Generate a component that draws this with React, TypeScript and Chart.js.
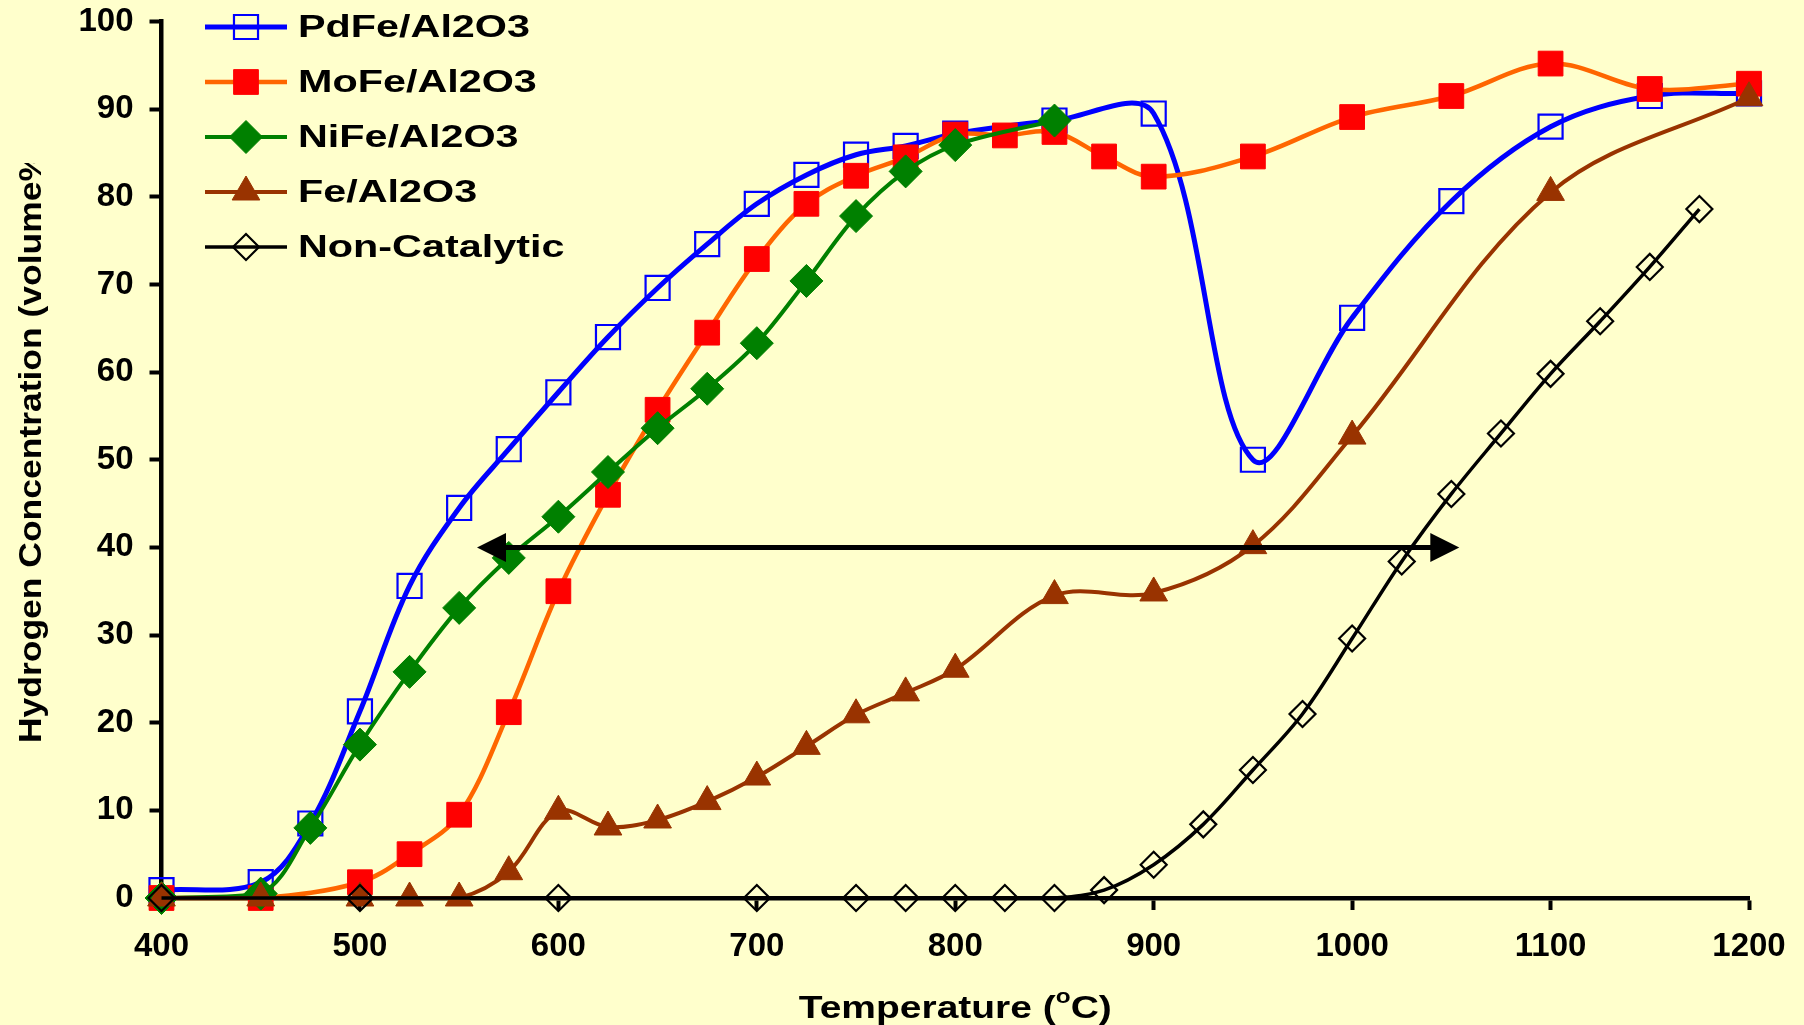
import React, { useEffect, useRef } from 'react';
import { Chart, registerables } from 'chart.js';

Chart.register(...registerables);

// ---------------- DATA ----------------
const PD_X = [400, 450, 475, 500, 525, 550, 575, 600, 625, 650, 675, 700, 725, 750, 775, 800, 850, 900, 950, 1000, 1050, 1100, 1150, 1200];
const PD_Y = [0.9, 1.8, 8.5, 21.3, 35.6, 44.5, 51.2, 57.7, 64, 69.6, 74.6, 79.2, 82.5, 84.8, 85.8, 87.2, 88.7, 89.5, 50.0, 66.2, 79.5, 88.0, 91.5, 91.8];

const MO_X = [400, 450, 500, 525, 550, 575, 600, 625, 650, 675, 700, 725, 750, 775, 800, 825, 850, 875, 900, 950, 1000, 1050, 1100, 1150, 1200];
const MO_Y = [0, 0, 1.8, 5, 9.5, 21.2, 35, 46, 55.7, 64.5, 72.9, 79.2, 82.4, 84.5, 87.1, 87, 87.4, 84.6, 82.3, 84.6, 89.1, 91.5, 95.2, 92.3, 92.9];

const NI_X = [400, 450, 475, 500, 525, 550, 575, 600, 625, 650, 675, 700, 725, 750, 775, 800, 850];
const NI_Y = [0, 0.5, 8, 17.5, 25.8, 33.1, 38.8, 43.5, 48.6, 53.6, 58.1, 63.3, 70.4, 77.8, 82.9, 85.9, 88.7];

const FE_X = [400, 450, 500, 525, 550, 575, 600, 625, 650, 675, 700, 725, 750, 775, 800, 850, 900, 950, 1000, 1100, 1200];
const FE_Y = [0, 0, 0, 0, 0, 3, 9.9, 8.1, 8.9, 11, 13.8, 17.3, 20.9, 23.4, 26.1, 34.5, 34.8, 40.2, 52.7, 80.5, 91.3];

const NC_X = [400, 500, 600, 700, 750, 775, 800, 825, 850, 875, 900, 925, 950, 975, 1000, 1025, 1050, 1075, 1100, 1125, 1150, 1175];
const NC_Y = [0, 0, 0, 0, 0, 0, 0, 0, 0, 0.9, 3.8, 8.4, 14.6, 21, 29.6, 38.4, 46.1, 53, 59.8, 65.8, 72, 78.6];

const SERIES_NAMES = ['PdFe/Al2O3', 'MoFe/Al2O3', 'NiFe/Al2O3', 'Fe/Al2O3', 'Non-Catalytic'];

const X_MIN = 400, X_MAX = 1200, X_STEP = 100;
const Y_MIN = 0, Y_MAX = 100, Y_STEP = 10;

// double-headed arrow annotation (data coordinates)
const ARROW_FROM = 559;
const ARROW_TO = 1054;
const ARROW_Y = 40;

const X_TITLE = ['Temperature (', 'o', 'C)'];
const Y_TITLE = 'Hydrogen Concentration (volume%)';

// ---------------- STYLE ----------------
const BG = '#FFFFCC';
const FONT = "'Liberation Sans', Arial, Helvetica, sans-serif";

const toPts = (xs: number[], ys: number[]) => xs.map((x, i) => ({ x, y: ys[i] }));

type Marker = { style: string; r: number; fill: string; stroke: string; bw: number };

function drawMarker(ctx: CanvasRenderingContext2D, m: Marker, x: number, y: number) {
  ctx.save();
  ctx.beginPath();
  if (m.style === 'rect') {
    const s = m.r * Math.SQRT1_2;
    ctx.rect(x - s, y - s, 2 * s, 2 * s);
  } else if (m.style === 'rectRot') {
    ctx.moveTo(x, y - m.r);
    ctx.lineTo(x + m.r, y);
    ctx.lineTo(x, y + m.r);
    ctx.lineTo(x - m.r, y);
    ctx.closePath();
  } else if (m.style === 'triangle') {
    ctx.moveTo(x, y - m.r);
    ctx.lineTo(x + 0.866 * m.r, y + 0.5 * m.r);
    ctx.lineTo(x - 0.866 * m.r, y + 0.5 * m.r);
    ctx.closePath();
  }
  if (m.fill !== 'transparent') {
    ctx.fillStyle = m.fill;
    ctx.fill();
  }
  ctx.lineWidth = m.bw;
  ctx.strokeStyle = m.stroke;
  ctx.stroke();
  ctx.restore();
}

const bgPlugin = {
  id: 'bg',
  beforeDraw(chart: any) {
    const ctx = chart.ctx;
    ctx.save();
    ctx.fillStyle = BG;
    ctx.fillRect(0, 0, chart.width, chart.height);
    ctx.restore();
  },
};

const arrowPlugin = {
  id: 'arrow',
  afterDatasetsDraw(chart: any) {
    const ctx = chart.ctx;
    const xs = chart.scales.x, ys = chart.scales.y;
    const x1 = xs.getPixelForValue(ARROW_FROM);
    const x2 = xs.getPixelForValue(ARROW_TO);
    const y = ys.getPixelForValue(ARROW_Y);
    const hl = 29, hw = 14.5;
    ctx.save();
    ctx.strokeStyle = '#000';
    ctx.fillStyle = '#000';
    ctx.lineWidth = 5;
    ctx.beginPath();
    ctx.moveTo(x1 + hl - 2, y);
    ctx.lineTo(x2 - hl + 2, y);
    ctx.stroke();
    ctx.beginPath();
    ctx.moveTo(x1, y);
    ctx.lineTo(x1 + hl, y - hw);
    ctx.lineTo(x1 + hl, y + hw);
    ctx.closePath();
    ctx.fill();
    ctx.beginPath();
    ctx.moveTo(x2, y);
    ctx.lineTo(x2 - hl, y - hw);
    ctx.lineTo(x2 - hl, y + hw);
    ctx.closePath();
    ctx.fill();
    ctx.restore();
  },
};

const legendPlugin = {
  id: 'customLegend',
  afterDraw(chart: any) {
    const ctx = chart.ctx;
    const dsets = chart.data.datasets;
    const y0 = 27, dy = 55;
    ctx.save();
    ctx.font = `bold 32px ${FONT}`;
    const sx = 232 / ctx.measureText(SERIES_NAMES[0]).width;
    dsets.forEach((ds: any, i: number) => {
      const y = y0 + i * dy;
      ctx.strokeStyle = ds.borderColor;
      ctx.lineWidth = ds.borderWidth;
      ctx.beginPath();
      ctx.moveTo(205, y);
      ctx.lineTo(287, y);
      ctx.stroke();
      drawMarker(ctx, { style: ds.pointStyle, r: ds.pointRadius, fill: ds.pointBackgroundColor, stroke: ds.pointBorderColor, bw: ds.pointBorderWidth }, 246, y);
      ctx.save();
      ctx.translate(298, y);
      ctx.scale(sx, 1);
      ctx.fillStyle = '#000';
      ctx.textBaseline = 'middle';
      ctx.textAlign = 'left';
      ctx.font = `bold 32px ${FONT}`;
      ctx.fillText(ds.label, 0, 1);
      ctx.restore();
    });
    ctx.restore();
  },
};

const titlesPlugin = {
  id: 'titles',
  afterDraw(chart: any) {
    const ctx = chart.ctx;
    // Y title (rotated), clipped at the top like the original
    ctx.save();
    ctx.beginPath();
    ctx.rect(0, 163, 120, 900);
    ctx.clip();
    ctx.font = `bold 32px ${FONT}`;
    const partial = Y_TITLE.slice(0, Y_TITLE.length - 1);
    const sy = 593 / ctx.measureText(partial).width;
    ctx.translate(41, 743);
    ctx.rotate(-Math.PI / 2);
    ctx.scale(sy, 1);
    ctx.fillStyle = '#000';
    ctx.textBaseline = 'alphabetic';
    ctx.textAlign = 'left';
    ctx.fillText(Y_TITLE, 0, 0);
    ctx.restore();

    // X title with superscript
    ctx.save();
    const sizes = [32, 20, 32];
    const rises = [0, 15, 0];
    let total = 0;
    const widths = X_TITLE.map((t, i) => {
      ctx.font = `bold ${sizes[i]}px ${FONT}`;
      const w = ctx.measureText(t).width;
      total += w;
      return w;
    });
    const target = 313;
    const sxx = target / total;
    const cx = (chart.chartArea.left + chart.chartArea.right) / 2;
    ctx.translate(cx - target / 2, 1018);
    ctx.scale(sxx, 1);
    ctx.fillStyle = '#000';
    ctx.textBaseline = 'alphabetic';
    ctx.textAlign = 'left';
    let xx = 0;
    X_TITLE.forEach((t, i) => {
      ctx.font = `bold ${sizes[i]}px ${FONT}`;
      ctx.fillText(t, xx, -rises[i]);
      xx += widths[i];
    });
    ctx.restore();
  },
};

export default function App() {
  const ref = useRef<HTMLCanvasElement>(null);
  useEffect(() => {
    document.body.style.margin = '0';
    document.body.style.background = BG;
    Chart.defaults.font.family = FONT;

    const common = { fill: false, tension: 0.35, clip: false as any, cubicInterpolationMode: 'default' as const };
    const chart = new Chart(ref.current as HTMLCanvasElement, {
      type: 'line',
      data: {
        datasets: [
          {
            ...common, label: SERIES_NAMES[0], data: toPts(PD_X, PD_Y), order: 5,
            borderColor: '#0000FF', borderWidth: 5,
            pointStyle: 'rect', pointRadius: 17, pointBackgroundColor: 'transparent', pointBorderColor: '#0000FF', pointBorderWidth: 2.2,
          },
          {
            ...common, label: SERIES_NAMES[1], data: toPts(MO_X, MO_Y), order: 4,
            borderColor: '#FF6600', borderWidth: 4.5,
            pointStyle: 'rect', pointRadius: 17.5, pointBackgroundColor: '#FF0000', pointBorderColor: '#FF0000', pointBorderWidth: 1,
          },
          {
            ...common, label: SERIES_NAMES[2], data: toPts(NI_X, NI_Y), order: 3,
            borderColor: '#008000', borderWidth: 4,
            pointStyle: 'rectRot', pointRadius: 16.5, pointBackgroundColor: '#008000', pointBorderColor: '#008000', pointBorderWidth: 1,
          },
          {
            ...common, label: SERIES_NAMES[3], data: toPts(FE_X, FE_Y), order: 2,
            borderColor: '#993300', borderWidth: 4,
            pointStyle: 'triangle', pointRadius: 16, pointBackgroundColor: '#993300', pointBorderColor: '#993300', pointBorderWidth: 1,
          },
          {
            ...common, label: SERIES_NAMES[4], data: toPts(NC_X, NC_Y), order: 1,
            borderColor: '#000000', borderWidth: 3.5,
            pointStyle: 'rectRot', pointRadius: 13, pointBackgroundColor: 'transparent', pointBorderColor: '#000000', pointBorderWidth: 2.2,
          },
        ],
      },
      options: {
        animation: false,
        responsive: false,
        devicePixelRatio: 1,
        layout: { padding: { left: 61.5, right: 55, top: 21.5, bottom: 57 } },
        plugins: { legend: { display: false }, tooltip: { enabled: false }, title: { display: false } },
        elements: { point: { hoverRadius: 17 } },
        scales: {
          x: {
            type: 'linear',
            min: X_MIN, max: X_MAX,
            afterFit: (s: any) => { s.height = 70; s.paddingLeft = 0; s.paddingRight = 0; },
            ticks: { stepSize: X_STEP, color: '#000', font: { size: 33, weight: 'bold', family: FONT }, padding: 17, maxRotation: 0, callback: (v: any) => String(v) },
            grid: { display: true, drawOnChartArea: false, drawTicks: true, tickLength: 12, tickWidth: 4, tickColor: '#000', color: '#000' },
            border: { display: true, color: '#000', width: 4.5 },
          },
          y: {
            type: 'linear',
            min: Y_MIN, max: Y_MAX,
            afterFit: (s: any) => { s.width = 100; s.paddingTop = 0; s.paddingBottom = 0; },
            ticks: { stepSize: Y_STEP, color: '#000', font: { size: 33, weight: 'bold', family: FONT }, padding: 16, callback: (v: any) => String(v) },
            grid: { display: true, drawOnChartArea: false, drawTicks: true, tickLength: 12, tickWidth: 4, tickColor: '#000', color: '#000' },
            border: { display: true, color: '#000', width: 4.5 },
          },
        },
      },
      plugins: [bgPlugin, arrowPlugin, legendPlugin, titlesPlugin],
    } as any);
    return () => chart.destroy();
  }, []);

  return (
    <div style={{ width: 1804, height: 1025, background: BG, overflow: 'hidden' }}>
      <canvas ref={ref} width={1804} height={1025} style={{ display: 'block' }} />
    </div>
  );
}
